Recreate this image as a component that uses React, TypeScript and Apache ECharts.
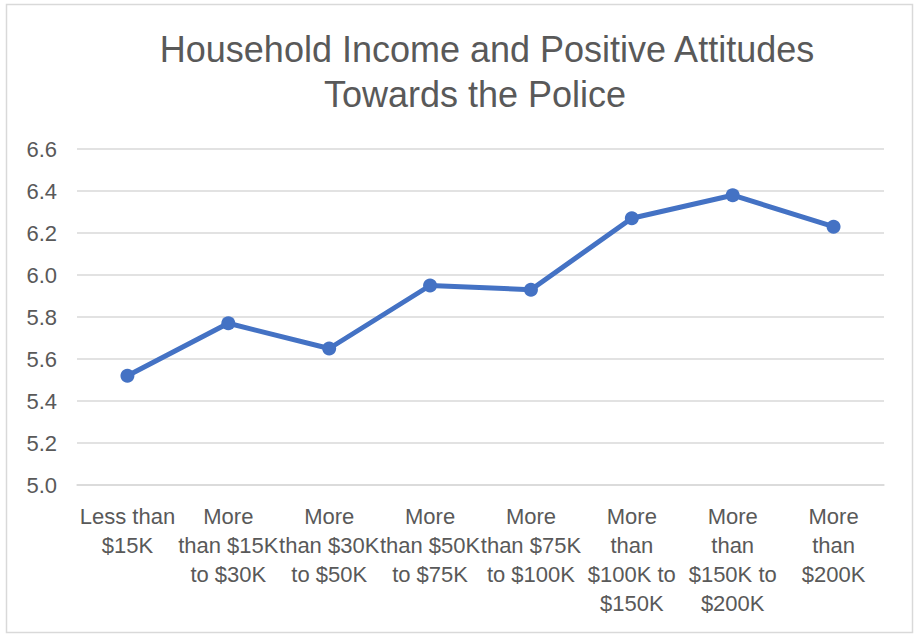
import React, { useEffect, useRef } from "react";
import * as echarts from "echarts";

const categories: string[] = [
  "Less than\n$15K",
  "More\nthan $15K\nto $30K",
  "More\nthan $30K\nto $50K",
  "More\nthan $50K\nto $75K",
  "More\nthan $75K\nto $100K",
  "More\nthan\n$100K to\n$150K",
  "More\nthan\n$150K to\n$200K",
  "More\nthan\n$200K",
];
const values: number[] = [5.52, 5.77, 5.65, 5.95, 5.93, 6.27, 6.38, 6.23];
const titleLines: string[] = ["Household Income and Positive Attitudes", "Towards the Police"];
const yMin = 5.0;
const yMax = 6.6;
const yStep = 0.2;

const FONT = "'Liberation Sans', Arial, sans-serif";
const GRAY = "#595959";

export default function App() {
  const ref = useRef<HTMLDivElement>(null);
  useEffect(() => {
    document.body.style.margin = "0";
    if (!ref.current) return;
    const chart = echarts.init(ref.current, undefined, { renderer: "svg" });
    chart.setOption({
      animation: false,
      backgroundColor: "#ffffff",
      graphic: [
        {
          type: "rect",
          shape: { x: 6.5, y: 4.5, width: 906, height: 628 },
          style: { fill: "none", stroke: "#D9D9D9", lineWidth: 1.5 },
          silent: true,
        },
        {
          type: "text",
          x: 487,
          y: 49,
          style: {
            text: titleLines[0],
            font: `36px ${FONT}`,
            fill: GRAY,
            textAlign: "center",
            textVerticalAlign: "middle",
          },
        },
        {
          type: "text",
          x: 475,
          y: 94,
          style: {
            text: titleLines[1],
            font: `36px ${FONT}`,
            fill: GRAY,
            textAlign: "center",
            textVerticalAlign: "middle",
          },
        },
      ],
      grid: { left: 77, right: 31, top: 149, bottom: 149, containLabel: false },
      xAxis: {
        type: "category",
        data: categories,
        boundaryGap: true,
        axisLine: { show: true, lineStyle: { color: "#D9D9D9", width: 1.5 } },
        axisTick: { show: false },
        axisLabel: {
          interval: 0,
          color: GRAY,
          fontFamily: FONT,
          fontSize: 22,
          lineHeight: 29,
          margin: 17,
          align: "center",
        },
      },
      yAxis: {
        type: "value",
        min: yMin,
        max: yMax,
        interval: yStep,
        axisLine: { show: false },
        axisTick: { show: false },
        splitLine: { lineStyle: { color: "#D9D9D9", width: 1.5 } },
        axisLabel: {
          color: GRAY,
          fontFamily: FONT,
          fontSize: 22,
          margin: 20,
          formatter: (v: number) => v.toFixed(1),
        },
      },
      series: [
        {
          type: "line",
          data: values,
          symbol: "circle",
          symbolSize: 14,
          lineStyle: { color: "#4472C4", width: 5 },
          itemStyle: { color: "#4472C4" },
        },
      ],
    });
    return () => chart.dispose();
  }, []);
  return <div ref={ref} style={{ width: 915, height: 634 }} />;
}
